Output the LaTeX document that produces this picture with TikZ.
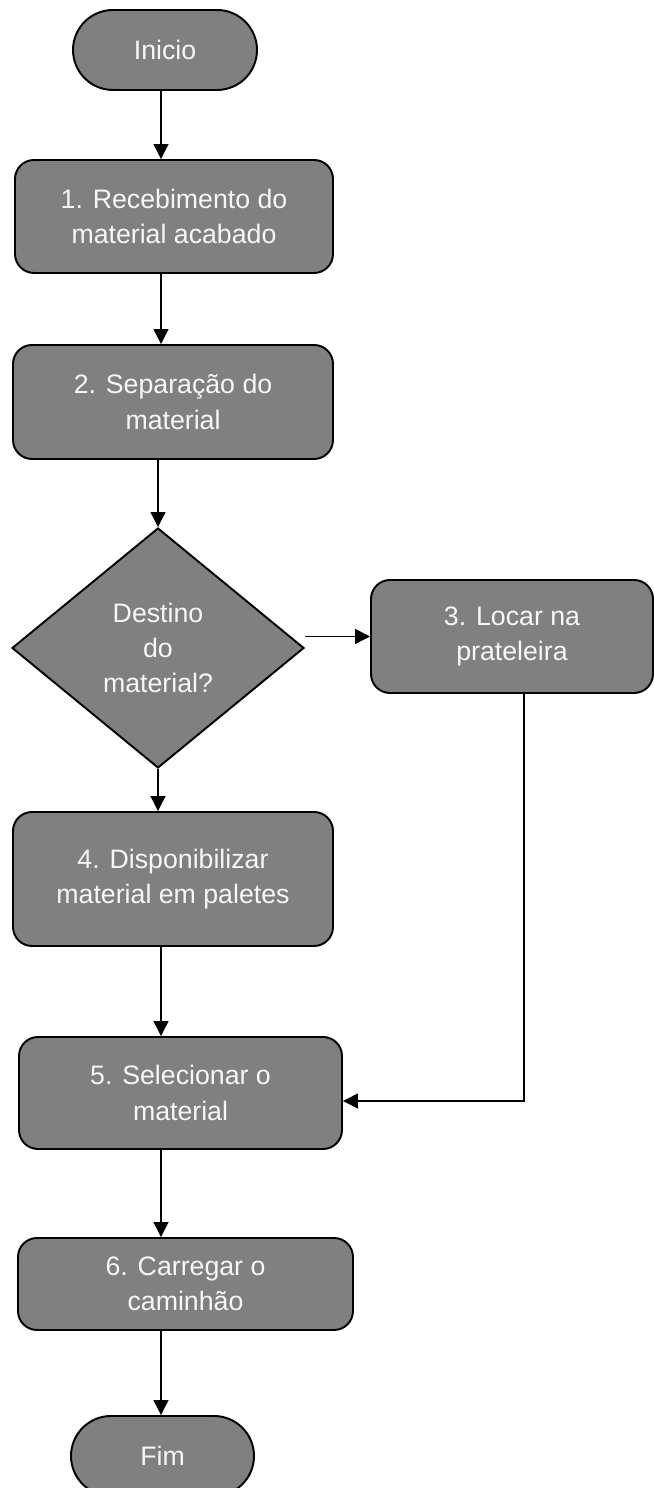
\documentclass[tikz,border=0pt]{standalone}
\usepackage{fontspec}
\setmainfont{Liberation Sans}
\usepackage{tikz}
\usetikzlibrary{shapes.geometric,arrows.meta}
\definecolor{FlowFill}{HTML}{808080}
\definecolor{FlowText}{HTML}{F7F7F7}

\begin{document}
\begin{tikzpicture}[x=1cm,y=1cm,
  procbox/.style={draw=black,line width=1.1pt,fill=FlowFill,text=FlowText,rounded corners=0.38cm,align=center,font=\fontsize{15.2}{20}\selectfont},
  termbox/.style={procbox,rounded corners=0.8cm,minimum width=3.68cm,minimum height=1.6cm},
  decbox/.style={procbox,rounded corners=0pt,diamond,inner sep=0pt,minimum width=5.84cm,minimum height=4.8cm},
  flowarrow/.style={-{Triangle[length=0.3cm,width=0.3cm]},line width=0.75pt}]
\path[use as bounding box] (0,0) rectangle (13.08,29.76);
\coordinate (spine) at (3.22,0);
\node[termbox] (inicio) at (3.30,28.76) {Inicio};
\node[procbox,minimum width=6.36cm,minimum height=2.26cm] (receb) at (3.48,25.43) {1. Recebimento do\\material acabado};
\node[procbox,minimum width=6.40cm,minimum height=2.28cm] (separ) at (3.46,21.72) {2. Separação do\\material};
\node[decbox] (destino) at (3.16,16.80) {Destino\\do\\material?};
\node[procbox,minimum width=5.64cm,minimum height=2.26cm] (locar) at (10.24,17.03) {3. Locar na\\prateleira};
\node[procbox,minimum width=6.40cm,minimum height=2.68cm] (dispon) at (3.46,12.18) {4. Disponibilizar\\material em paletes};
\node[procbox,minimum width=6.46cm,minimum height=2.24cm] (selec) at (3.61,7.90) {5. Selecionar o\\material};
\node[procbox,minimum width=6.70cm,minimum height=1.84cm] (carreg) at (3.71,4.08) {6. Carregar o\\caminhão};
\node[termbox,minimum width=3.66cm] (fim) at (3.25,0.64) {Fim};
% ligacoes
\draw[flowarrow] (inicio.south -| spine) -- (receb.north -| spine);
\draw[flowarrow] (receb.south -| spine) -- (separ.north -| spine);
\draw[flowarrow] (separ.south -| destino.north) -- (destino.north);
\draw[flowarrow] (destino.east |- locar.west) -- (locar.west);
\draw[flowarrow] (destino.south) -- (destino.south |- dispon.north);
\draw[flowarrow] (dispon.south -| spine) -- (selec.north -| spine);
\draw[flowarrow] ([xshift=0.24cm]locar.south) |- ([yshift=-0.16cm]selec.east);
\draw[flowarrow] (selec.south -| spine) -- (carreg.north -| spine);
\draw[flowarrow] (carreg.south -| spine) -- (fim.north -| spine);
\end{tikzpicture}
\end{document}
